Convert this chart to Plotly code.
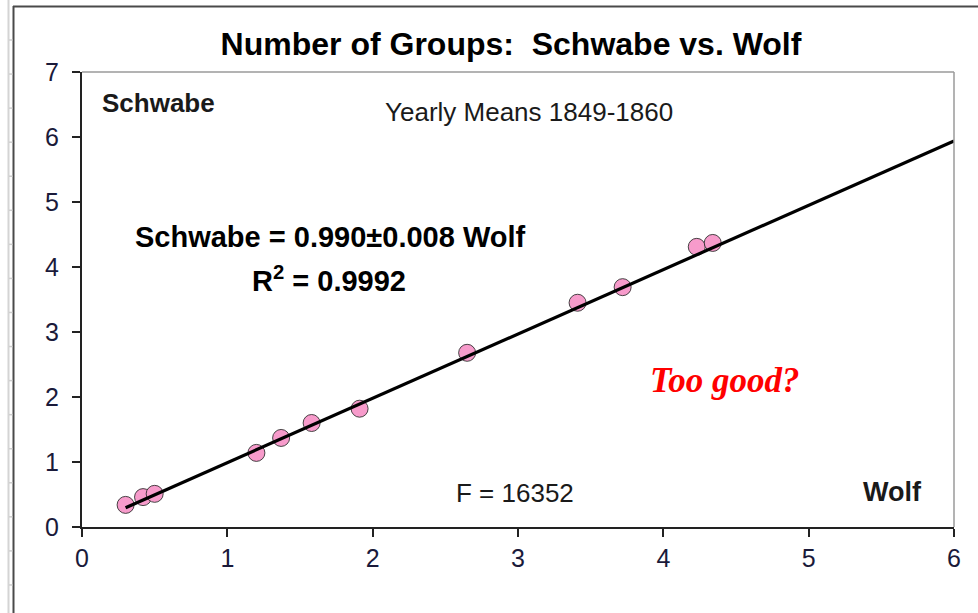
import plotly.graph_objects as go

# Yearly mean number of sunspot groups, 1849-1860
wolf = [0.30, 0.42, 0.50, 1.20, 1.37, 1.58, 1.91, 2.65, 3.41, 3.72, 4.23, 4.34]
schwabe = [0.34, 0.46, 0.51, 1.14, 1.37, 1.60, 1.82, 2.68, 3.45, 3.69, 4.31, 4.37]

# Fit through the origin: Schwabe = slope * Wolf
slope = 0.990
fit_x = [min(wolf), 6.0]
fit_y = [slope * v for v in fit_x]

x_ticks = [0, 1, 2, 3, 4, 5, 6]
y_ticks = [0, 1, 2, 3, 4, 5, 6, 7]

W, H = 978, 613
L, R, T, B = 82, 24, 72, 86
PW, PH = W - L - R, H - T - B


def px(x):
    return (x - L) / PW


def py(y):
    return (H - B - y) / PH


fig = go.Figure()
fig.add_trace(go.Scatter(
    x=wolf, y=schwabe, mode="markers",
    marker=dict(size=17, color="#F79BCB",
                line=dict(color="rgba(40,40,40,0.85)", width=1)),
    showlegend=False, hoverinfo="x+y",
))
fig.add_trace(go.Scatter(
    x=fit_x, y=fit_y, mode="lines",
    line=dict(color="black", width=3.2),
    showlegend=False, hoverinfo="skip",
))

shapes = []
# plot-area border (top and right)
shapes.append(dict(type="line", xref="paper", yref="paper", x0=0, x1=1, y0=1, y1=1,
                   line=dict(color="#9a9a9a", width=1.5)))
shapes.append(dict(type="line", xref="paper", yref="paper", x0=1, x1=1, y0=0, y1=1,
                   line=dict(color="#9a9a9a", width=1.5)))
# chart frame
shapes.append(dict(type="line", xref="paper", yref="paper", x0=px(13.5), x1=px(13.5),
                   y0=py(6), y1=py(H + 2), line=dict(color="#4a4a4a", width=2)))
shapes.append(dict(type="line", xref="paper", yref="paper", x0=px(13), x1=px(W + 2),
                   y0=py(6.5), y1=py(6.5), line=dict(color="#4a4a4a", width=2)))
# worksheet column edge with row separators
shapes.append(dict(type="line", xref="paper", yref="paper", x0=px(8.5), x1=px(8.5),
                   y0=py(0), y1=py(H + 2), line=dict(color="#d4d4d4", width=2)))
for k in range(17):
    yy = 40 + 34.06 * k
    shapes.append(dict(type="line", xref="paper", yref="paper", x0=px(9), x1=px(12.5),
                       y0=py(yy), y1=py(yy), line=dict(color="#cfcfcf", width=1.5)))

font_main = "Liberation Sans, Arial, sans-serif"
annotations = [
    dict(x=px(100), y=py(103), xref="paper", yref="paper", text="<b>Schwabe</b>",
         xanchor="left", yanchor="middle", showarrow=False,
         font=dict(size=26, color="#1a1a1a", family=font_main)),
    dict(x=px(529), y=py(112), xref="paper", yref="paper", text="Yearly Means 1849-1860",
         xanchor="center", yanchor="middle", showarrow=False,
         font=dict(size=26, color="#1a1a1a", family=font_main)),
    dict(x=px(330), y=py(237), xref="paper", yref="paper",
         text="<b>Schwabe = %.3f±0.008 Wolf</b>" % slope,
         xanchor="center", yanchor="middle", showarrow=False,
         font=dict(size=29, color="black", family=font_main)),
    dict(x=px(329), y=py(279), xref="paper", yref="paper",
         text="<b>R<sup>2</sup> = 0.9992</b>",
         xanchor="center", yanchor="middle", showarrow=False,
         font=dict(size=29, color="black", family=font_main)),
    dict(x=px(724), y=py(380), xref="paper", yref="paper",
         text="<b><i>Too good?</i></b>",
         xanchor="center", yanchor="middle", showarrow=False,
         font=dict(size=35, color="#FF0000", family="Liberation Serif, serif")),
    dict(x=px(515), y=py(493), xref="paper", yref="paper", text="F = 16352",
         xanchor="center", yanchor="middle", showarrow=False,
         font=dict(size=26, color="#1a1a1a", family=font_main)),
    dict(x=px(892), y=py(492), xref="paper", yref="paper", text="<b>Wolf</b>",
         xanchor="center", yanchor="middle", showarrow=False,
         font=dict(size=27, color="#1a1a1a", family=font_main)),
]

fig.update_layout(
    width=W, height=H,
    margin=dict(l=L, r=R, t=T, b=B, autoexpand=False),
    paper_bgcolor="white", plot_bgcolor="white",
    title=dict(text="<b>Number of Groups:  Schwabe vs. Wolf</b>",
               x=511 / W, y=1 - 44 / H, xref="container", yref="container",
               xanchor="center", yanchor="middle",
               font=dict(size=32, color="black", family=font_main)),
    xaxis=dict(range=[0, 6], tickvals=x_ticks, ticktext=[str(v) for v in x_ticks],
               showgrid=False, zeroline=False, showline=True, linecolor="#222",
               linewidth=2, ticks="outside", ticklen=8, tickwidth=2, tickcolor="#222",
               tickfont=dict(size=25, color="#1a1a3a", family=font_main),
               fixedrange=True),
    yaxis=dict(range=[0, 7], tickvals=y_ticks, ticktext=[str(v) for v in y_ticks],
               showgrid=False, zeroline=False, showline=True, linecolor="#222",
               linewidth=2, ticks="outside", ticklen=8, tickwidth=2, tickcolor="#222",
               tickfont=dict(size=25, color="#1a1a3a", family=font_main),
               ticklabelstandoff=8, fixedrange=True),
    shapes=shapes,
    annotations=annotations,
)

fig.write_html("out.html")
